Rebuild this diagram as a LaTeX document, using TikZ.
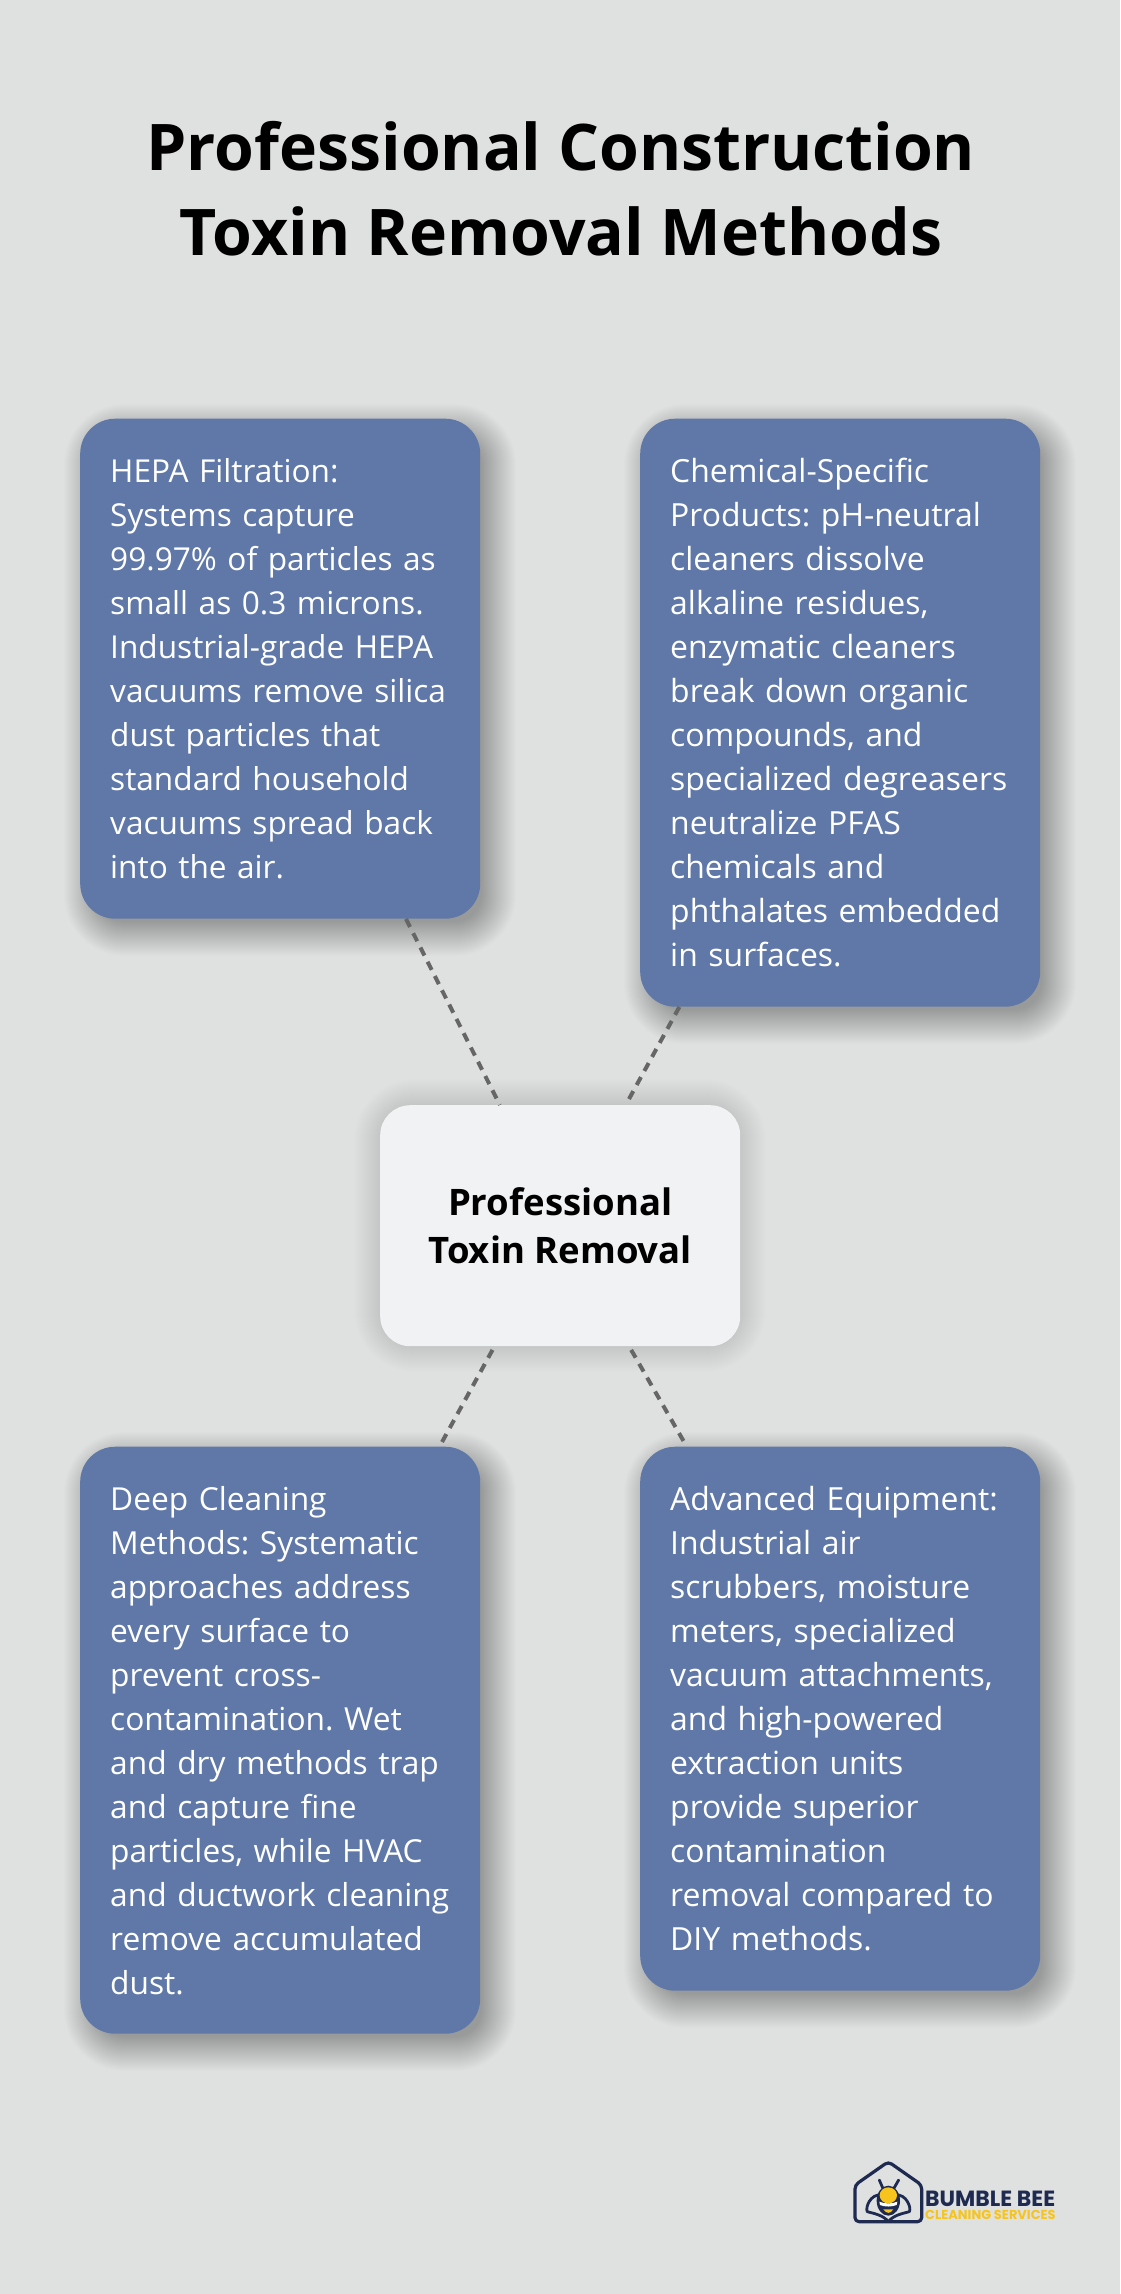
\documentclass[tikz,border=0pt]{standalone}
\usepackage{fontspec}
\setmainfont{Open Sans}
\newfontfamily\logofont{Poppins}
\frenchspacing
\usetikzlibrary{calc}
\definecolor{bgc}{HTML}{DFE1E0}
\definecolor{boxc}{HTML}{5F78A8}
\definecolor{hubc}{HTML}{F0F2F4}
\definecolor{dashc}{HTML}{666666}
\definecolor{navy}{HTML}{1E2A50}
\definecolor{beey}{HTML}{F6C41C}
\newcommand{\softshadow}[7]{% x1 y1 x2 y2 dx dy opacity
  \foreach \r in {26,25,...,-8}{
    \fill[black,opacity=#7,rounded corners={max(35+\r,2)*1pt}]
      ({#1+#5-\r},{#2+#6-\r}) rectangle ({#3+#5+\r},{#4+#6+\r});
  }}
\tikzset{
  x=1pt,y=-1pt,
  infobox/.style={draw=none,fill=boxc,rounded corners=35pt,text=white,anchor=north west,
    minimum width=400pt,inner xsep=30pt,inner ysep=0pt,text width=340pt,align=left,
    font=\fontsize{31.9}{44}\selectfont},
  hubbox/.style={draw=none,fill=hubc,rounded corners=30pt,anchor=north west,minimum width=360pt,minimum height=241pt,
    align=center,inner sep=0pt,text=black,font=\fontsize{36.5}{48}\selectfont\bfseries},
  titletext/.style={align=center,inner sep=0pt,text=black,font=\fontsize{64.3}{85}\selectfont\bfseries},
  link/.style={draw=dashc,line width=4pt,dash pattern=on 9pt off 7pt},
  logoline/.style={draw=navy,line width=2.8pt,line join=round,line cap=round}
}
\begin{document}
\begin{tikzpicture}
\useasboundingbox (0,0) rectangle (1120,2294);
\fill[bgc] (0,0) rectangle (1120,2294);
\node[titletext] (title) at (561,188.5) {Professional Construction\\Toxin Removal Methods};
\softshadow{80}{418}{480}{918}{10}{12}{0.0068}
\softshadow{640}{418}{1040}{1006}{10}{12}{0.0068}
\softshadow{80}{1446}{480}{2033}{10}{12}{0.0068}
\softshadow{640}{1446}{1040}{1990}{10}{12}{0.0068}
\softshadow{380}{1105}{740}{1346}{0}{0}{0.0045}
\node[infobox,minimum height=500pt,font=\fontsize{31.6}{44}\selectfont] (hepa) at (80,418.5) {HEPA Filtration:\\Systems capture\\99.97\% of particles as\\small as 0.3 microns.\\Industrial-grade HEPA\\vacuums remove silica\\dust particles that\\standard household\\vacuums spread back\\into the air.};
\node[infobox,minimum height=588pt] (chem) at (640,418.5) {Chemical-Specific\\Products: pH-neutral\\cleaners dissolve\\alkaline residues,\\enzymatic cleaners\\break down organic\\compounds, and\\specialized degreasers\\neutralize PFAS\\chemicals and\\phthalates embedded\\in surfaces.};
\node[infobox,minimum height=587pt,font=\fontsize{31.7}{44}\selectfont] (deep) at (80,1446.5) {Deep Cleaning\\Methods: Systematic\\approaches address\\every surface to\\prevent cross-\\contamination. Wet\\and dry methods trap\\and capture fine\\particles, while HVAC\\\makebox[340pt][l]{and ductwork cleaning}\\remove accumulated\\dust.};
\node[infobox,minimum height=544pt] (equip) at (640,1446.5) {Advanced Equipment:\\Industrial air\\scrubbers, moisture\\meters, specialized\\vacuum attachments,\\and high-powered\\extraction units\\provide superior\\contamination\\removal compared to\\DIY methods.};
\node[hubbox] (hub) at (380,1105) {\rule{0pt}{3pt}Professional\\Toxin Removal};
\draw[link] (hepa) -- (hub);
\draw[link] (chem) -- (hub);
\draw[link,dash phase=12pt] (hub) -- (deep);
\draw[link,dash phase=12pt] (hub) -- (equip);
% logo
\begin{scope}[shift={(820,2130)},x=0.3333pt,y=-0.3333pt]
  \draw[logoline,line width=3.2pt,rounded corners=4pt] (205,95) -- (105,165) -- (105,275) -- (305,275) -- (305,165) -- cycle;
  \draw[logoline] (190,178) -- (178,150);
  \draw[logoline] (220,178) -- (236,150);
  \draw[logoline] (185,195) .. controls (150,190) and (135,235) .. (142,245) .. controls (160,250) and (190,255) .. (205,275);
  \draw[logoline] (225,195) .. controls (260,190) and (275,235) .. (268,245) .. controls (250,250) and (220,255) .. (205,275);
  \fill[navy] (205,212) ellipse [x radius=35,y radius=45];
  \fill[beey] (205,196) ellipse [x radius=26,y radius=24];
  \fill[white] (178,215) .. controls (195,222) and (215,222) .. (232,215) -- (230,225) .. controls (215,231) and (195,231) .. (180,225) -- cycle;
  \fill[beey] (190,238) .. controls (200,252) and (210,252) .. (220,238) -- cycle;
\end{scope}
\node[anchor=base west,inner sep=0pt,text=navy,font=\logofont\fontsize{22}{24}\selectfont\bfseries] (brand) at (925,2206) {BUMBLE BEE};
\node[anchor=base west,inner sep=0pt,text=beey,font=\logofont\fontsize{13}{15}\selectfont\bfseries] (service) at (925,2219) {CLEANING SERVICES};
\end{tikzpicture}
\end{document}
